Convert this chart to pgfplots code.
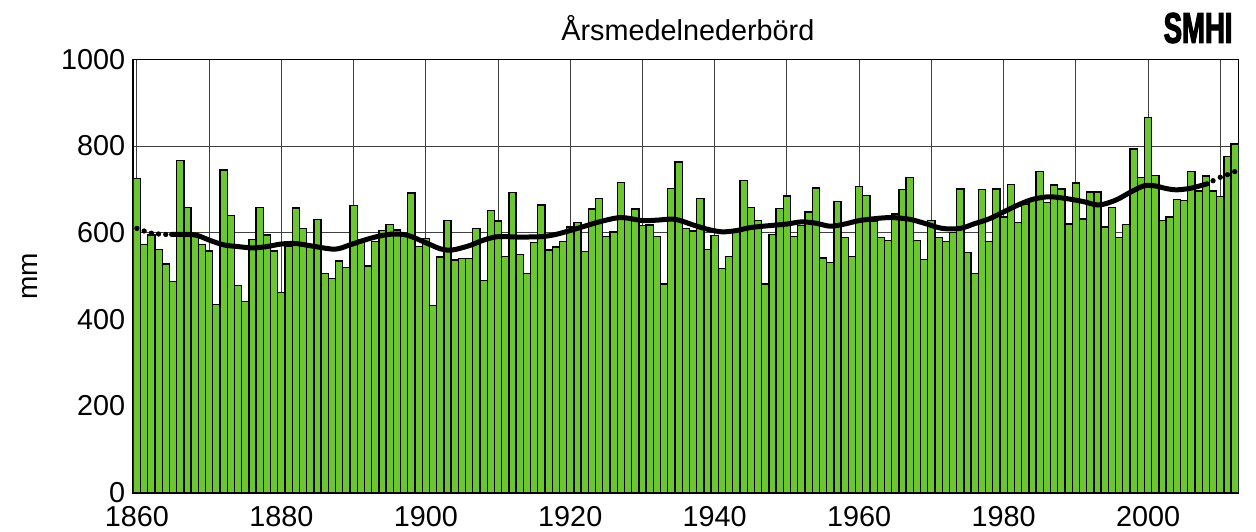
\documentclass[border=0pt]{standalone}
\usepackage{fontspec}
\setmainfont{Liberation Sans}
\newfontfamily\logofont{Liberation Sans}[UprightFont={* Bold}, FakeBold=2.5, FakeStretch=0.64]
\usepackage{pgfplots}
\pgfplotsset{compat=1.18}
\usepackage{pgfplotstable}
\definecolor{smhigreen}{RGB}{108,198,50}

\pgfplotstableread{
year mm
1860 725
1861 573
1862 595
1863 561
1864 528
1865 487
1866 767
1867 659
1868 591
1869 573
1870 558
1871 435
1872 745
1873 639
1874 478
1875 442
1876 585
1877 658
1878 595
1879 558
1880 462
1881 569
1882 657
1883 610
1884 568
1885 631
1886 506
1887 495
1888 535
1889 520
1890 663
1891 583
1892 523
1893 579
1894 605
1895 619
1896 606
1897 591
1898 692
1899 569
1900 587
1901 432
1902 544
1903 629
1904 537
1905 541
1906 541
1907 609
1908 489
1909 652
1910 627
1911 545
1912 693
1913 550
1914 506
1915 578
1916 664
1917 560
1918 567
1919 580
1920 613
1921 624
1922 556
1923 655
1924 679
1925 592
1926 602
1927 716
1928 630
1929 655
1930 616
1931 618
1932 591
1933 482
1934 702
1935 763
1936 609
1937 604
1938 679
1939 562
1940 594
1941 517
1942 545
1943 603
1944 720
1945 659
1946 628
1947 482
1948 596
1949 656
1950 685
1951 592
1952 617
1953 648
1954 703
1955 542
1956 532
1957 672
1958 589
1959 545
1960 706
1961 686
1962 626
1963 589
1964 582
1965 643
1966 700
1967 728
1968 582
1969 539
1970 629
1971 589
1972 580
1973 601
1974 701
1975 555
1976 506
1977 699
1978 579
1979 701
1980 636
1981 711
1982 624
1983 665
1984 679
1985 741
1986 670
1987 710
1988 701
1989 620
1990 715
1991 632
1992 694
1993 694
1994 613
1995 658
1996 589
1997 619
1998 793
1999 728
2000 866
2001 732
2002 628
2003 636
2004 677
2005 674
2006 741
2007 696
2008 731
2009 696
2010 684
2011 776
2012 805
}\bars

\pgfplotstableread{
year mm
1864.8 596
1868 595
1870 583
1872 572
1874 568
1876 565
1878 568
1880 574
1882 575
1884 570
1887.4 562
1889.5 572
1891.5 583
1893.5 592
1895.5 597
1897.5 594
1900 577
1902 563
1903.6 560
1906 570
1908 583
1910 591
1913 590
1916 591
1918 596
1921 610
1924 625
1927 635
1930 628
1932 629
1934.5 631
1937 618
1939 608
1941 602
1943 605
1945 612
1948 617
1950 620
1952 625
1954 622
1956 615
1958 620
1960 628
1962.5 633
1964.5 635
1967 631
1969 622
1971.5 610
1974 610
1976 621
1978 632
1980 648
1982 664
1984 677
1986.3 683
1988.6 679
1991 672
1993.2 664
1995.5 675
1997.5 693
1999.4 708
2001 708
2002.5 702
2004 699
2006 703
2008.2 713
}\smoothline

\pgfplotstableread{
year mm
1860 610
1861 604
1862 599
1863 597
1864 596
}\dotsstart

\pgfplotstableread{
year mm
2009 720
2010 728
2011 734
2012 741
}\dotsend

\begin{document}
\begin{tikzpicture}
\path[use as bounding box] (-66.65pt,-19.15pt) rectangle (561.35pt,246.35pt);
\begin{axis}[
  at={(0,0)}, anchor=south west,
  scale only axis, width=552.5pt, height=216.65pt,
  xmin=1859.5, xmax=2012.5, ymin=0, ymax=1000,
  xtick={1860,1880,...,2000},
  minor xtick={1870,1890,...,2010},
  ytick={0,200,...,1000},
  grid=both,
  major grid style={black!75, line width=0.5pt},
  minor grid style={black!75, line width=0.5pt},
  major tick length=0pt, minor tick length=0pt,
  axis line style={black, line width=0.8pt},
  ticklabel style={font=\fontsize{14.4}{17}\selectfont},
  xticklabel style={yshift=-3.3pt},
  yticklabel style={xshift=-0.5pt},
  /pgf/number format/assume math mode=true,
  /pgf/number format/1000 sep={},
  ylabel={mm},
  ylabel style={at={(axis description cs:-0.0935,0.5)}, anchor=center, font=\fontsize{14}{16}\selectfont},
]
\addplot[ybar, bar width=1, fill=smhigreen, draw=black, line width=0.65pt] table[x=year,y=mm]{\bars};
\addplot[black, line width=2.5pt, smooth, line cap=round] table[x=year,y=mm]{\smoothline};
\addplot[only marks, mark=*, mark size=1.1pt, black] table[x=year,y=mm]{\dotsstart};
\addplot[only marks, mark=*, mark size=1.1pt, black] table[x=year,y=mm]{\dotsend};
\end{axis}
\node at (277.3pt,232.35pt) {\fontsize{14.4}{16}\selectfont Årsmedelnederbörd};
\node at (532.4pt,232.35pt) {\fontsize{21.5}{22}\logofont SMHI};
\end{tikzpicture}
\end{document}
